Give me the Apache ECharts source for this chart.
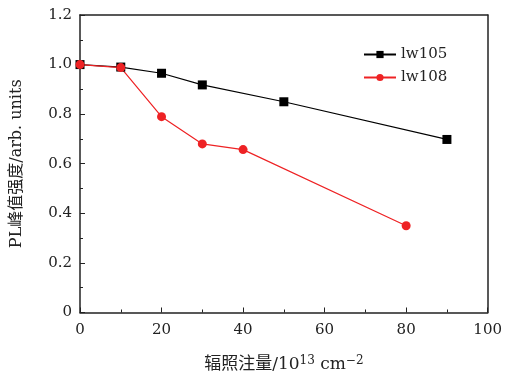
<!DOCTYPE html>
<html>
<head>
<meta charset="utf-8">
<script src="https://cdn.jsdelivr.net/npm/echarts@6/dist/echarts.min.js"></script>
<style>
  html, body { margin: 0; padding: 0; background: #fff; }
  #chart { width: 505px; height: 378px; }
</style>
</head>
<body>
<div id="chart"></div>
<script>
// 数据：辐照注量 与 PL 峰值强度
const dose105 = [0, 10, 20, 30, 50, 90];
const pl105 = [1.0, 0.99, 0.965, 0.918, 0.85, 0.698];
const dose108 = [0, 10, 20, 30, 40, 80];
const pl108 = [1.0, 0.988, 0.79, 0.68, 0.657, 0.35];

const serif = '"DejaVu Serif", "Noto Sans CJK SC", serif';

const chart = echarts.init(document.getElementById('chart'));

const option = {
  animation: false,
  grid: { left: 80, right: 16, top: 15, bottom: 63 },
  legend: {
    orient: 'vertical',
    left: 358,
    top: 42,
    itemWidth: 32,
    itemHeight: 9,
    itemGap: 8,
    textStyle: { fontFamily: serif, fontSize: 15, color: '#222' },
    data: ['lw105', 'lw108']
  },
  xAxis: [{
    type: 'value',
    min: 0, max: 100, interval: 20,
    axisLine: { lineStyle: { color: '#222', width: 1.5 } },
    axisTick: { inside: true, length: 5, lineStyle: { color: '#222' } },
    minorTick: { show: true, splitNumber: 2, length: 3, lineStyle: { color: '#222' } },
    splitLine: { show: false },
    axisLabel: { fontFamily: serif, fontSize: 15, color: '#222', margin: 10 },
    name: '辐照注量/10{sup|13} cm{sup|−2}',
    nameLocation: 'middle',
    nameGap: 42,
    nameTextStyle: {
      fontFamily: serif, fontSize: 17, color: '#222',
      rich: { sup: { fontFamily: serif, fontSize: 12, color: '#222', verticalAlign: 'top', padding: [0, 0, 8, 0] } }
    }
  }, {
    type: 'value', position: 'top', min: 0, max: 100,
    axisLine: { show: true, onZero: false, lineStyle: { color: '#222', width: 1.5 } },
    axisTick: { show: false }, axisLabel: { show: false }, splitLine: { show: false }
  }],
  yAxis: [{
    type: 'value',
    min: 0, max: 1.2, interval: 0.2,
    axisLine: { show: true, lineStyle: { color: '#222', width: 1.5 } },
    axisTick: { show: true, inside: true, length: 5, lineStyle: { color: '#222' } },
    minorTick: { show: true, splitNumber: 2, length: 3, lineStyle: { color: '#222' } },
    splitLine: { show: false },
    axisLabel: {
      fontFamily: serif, fontSize: 15, color: '#222', margin: 8,
      formatter: v => v === 0 ? '0' : v.toFixed(1)
    },
    name: 'PL峰值强度/arb. units',
    nameLocation: 'middle',
    nameGap: 55,
    nameTextStyle: { fontFamily: serif, fontSize: 16, color: '#222' }
  }, {
    type: 'value', position: 'right', min: 0, max: 1.2,
    axisLine: { show: true, onZero: false, lineStyle: { color: '#222', width: 1.5 } },
    axisTick: { show: false }, axisLabel: { show: false }, splitLine: { show: false }
  }],
  series: [{
    name: 'lw105',
    type: 'line',
    data: dose105.map((d, i) => [d, pl105[i]]),
    symbol: 'rect',
    symbolSize: 9,
    itemStyle: { color: '#000' },
    lineStyle: { color: '#000', width: 1.2 }
  }, {
    name: 'lw108',
    type: 'line',
    data: dose108.map((d, i) => [d, pl108[i]]),
    symbol: 'circle',
    symbolSize: 9,
    itemStyle: { color: '#ee2224' },
    lineStyle: { color: '#ee2224', width: 1.2 }
  }]
};

chart.setOption(option);
</script>
</body>
</html>
